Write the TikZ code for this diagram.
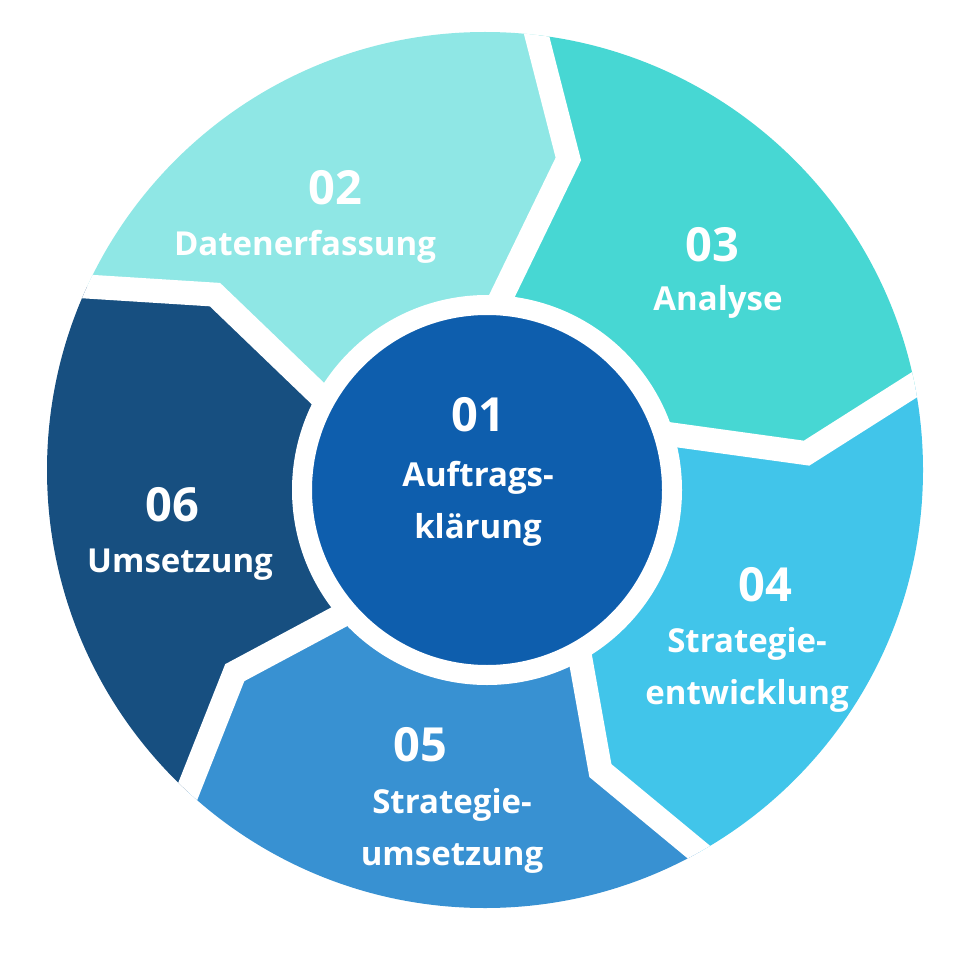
\documentclass[tikz,border=0pt]{standalone}
\usepackage{fontspec}
\setmainfont{Open Sans}
\begin{document}
\begin{tikzpicture}[x=1pt,y=1pt,
  lab/.style={text=white,font=\bfseries\fontsize{33}{52}\selectfont,align=center},
  num/.style={text=white,font=\bfseries\fontsize{47}{50}\selectfont},
  gap/.style={draw=white,line width=24pt,line join=miter}]
\useasboundingbox[fill=white] (0,0) rectangle (953,-957);
\definecolor{cA}{HTML}{8FE7E5}
\definecolor{cB}{HTML}{47D7D3}
\definecolor{cC}{HTML}{41C5EA}
\definecolor{cD}{HTML}{3891D2}
\definecolor{cE}{HTML}{174F80}
\definecolor{cF}{HTML}{0E5EAD}
\begin{scope}[shift={(485,-470)}]
 \clip (0,0) circle (438);
 \foreach \a/\c in {160/cA,88/cB,16/cC,-56/cD,-128/cE}{
   \pgfmathsetmacro\b{\a-72}
   \fill[\c] (0,0) -- (\a:170) -- (\a-13:322) -- (\a:560) -- (\a-36:700) -- (\b:560) -- (\b-13:322) -- (\b:170) -- cycle;
 }
 \foreach \a in {160,88,16,-56,-128}{
   \draw[gap] (\a:150) -- (\a-13:322) -- (\a:560);
 }
\end{scope}
\node[circle,fill=cF,draw=white,line width=20pt,minimum size=370pt] (c1) at (487,-490) {};
\node[num] (n1) at (478,-415) {01};
\node[lab] (t1) at (478,-504) {Auftrags-\\klärung};
\node[num] (n2) at (335,-188) {02};
\node[lab] (t2) at (305,-247) {Datenerfassung};
\node[num] (n3) at (712,-245) {03};
\node[lab] (t3) at (718,-302) {Analyse};
\node[num] (n4) at (765,-585) {04};
\node[lab] (t4) at (747,-670) {Strategie-\\entwicklung};
\node[num] (n5) at (420,-745) {05};
\node[lab] (t5) at (452,-831) {Strategie-\\umsetzung};
\node[num] (n6) at (172,-505) {06};
\node[lab] (t6) at (180,-565) {Umsetzung};
\end{tikzpicture}
\end{document}
